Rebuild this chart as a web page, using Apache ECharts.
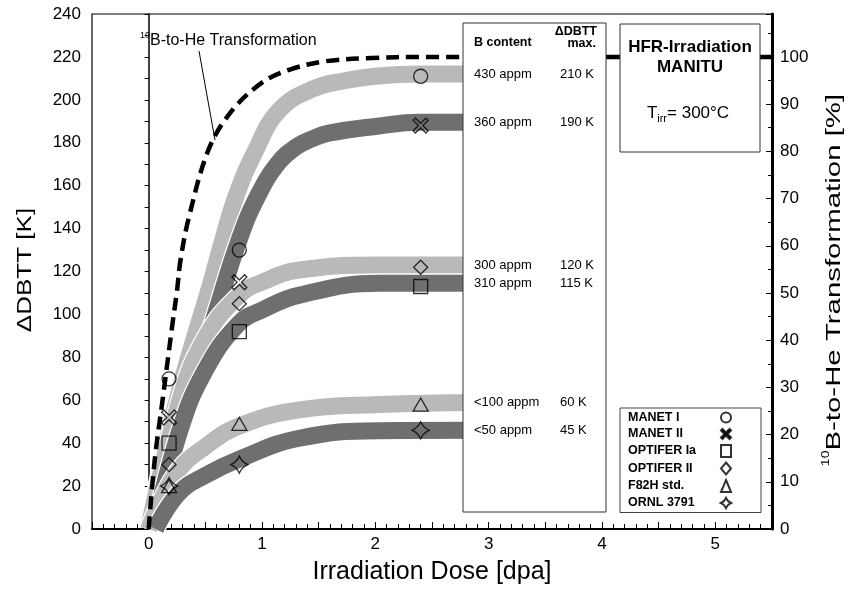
<!DOCTYPE html>
<html>
<head>
<meta charset="utf-8"/>
<title>DBTT vs irradiation dose</title>
<script src="https://cdn.jsdelivr.net/npm/echarts@6/dist/echarts.min.js"></script>
<style>
  html, body { margin: 0; padding: 0; background: #fff; }
  #chart { width: 848px; height: 590px; }
</style>
</head>
<body>
<div id="chart"></div>
<script>
// measured points (dose in dpa, DBTT shift in K)
var doseMarks = [0.18, 0.8, 2.4];
var manetI = [70, 130, 211];
var manetII = [52, 115, 188];
var optiferIa = [40, 92, 113];
var optiferII = [30, 105, 122];
var f82h = [20, 49, 58];
var ornl = [20, 30, 46];

// trend bands
var band430 = [[0, 0], [0.15, 38], [0.31, 72], [0.42, 92], [0.54, 113], [0.655, 135], [0.77, 155], [0.94, 176], [1.15, 195], [1.445, 205], [1.74, 209], [2.0, 211], [2.4, 212], [2.9, 212]];
var band360 = [[0.04, 0], [0.3, 50], [0.45, 76], [0.6, 102], [0.8, 135], [0.97, 156], [1.15, 171], [1.3, 178], [1.45, 182], [1.59, 184.5], [2.0, 187.6], [2.4, 189.5], [2.9, 189.5]];
var band300 = [[0, 0], [0.27, 59], [0.5, 89], [0.8, 109], [1.0, 115], [1.33, 120.7], [2.04, 123], [2.9, 123]];
var band310 = [[0.05, 0], [0.27, 45], [0.5, 74], [0.8, 96], [1.0, 102], [1.33, 109], [2.04, 114.5], [2.9, 114.5]];
var band100 = [[0, 0], [0.1, 12], [0.265, 27.5], [0.5, 38.4], [0.8, 48], [1.33, 55.5], [2.04, 58], [2.9, 59]];
var band50 = [[0.06, 0], [0.265, 16.7], [0.5, 25], [0.8, 32.6], [1.33, 42.3], [2.04, 45.8], [2.9, 46]];

// 10B-to-He transformation curve (left scale, 220 K = 100 %)
var heTransform = [[0, 0], [0.053, 32], [0.125, 61], [0.206, 94], [0.25, 111], [0.28, 125], [0.354, 145], [0.53, 177], [0.735, 195], [1.0, 208], [1.24, 214], [1.56, 218], [1.97, 219.5], [2.4, 220], [2.8, 220]];
var heSaturation = [[2.8, 220], [5.5, 220]];

// table in the box
var bContent = ['430 appm', '360 appm', '300 appm', '310 appm', '<100 appm', '<50 appm'];
var dbttMax = ['210 K', '190 K', '120 K', '115 K', '60 K', '45 K'];
var bandLevels = [212, 189.5, 123, 114.5, 59, 46];

var FONT = 'Liberation Sans, Arial, Helvetica, sans-serif';
var LIGHT = '#b9b9b9';
var DARK = '#6f6f6f';

var chart = echarts.init(document.getElementById('chart'));

// each band gets a thin white rim so overlapping bands stay apart
function band(data, color) {
    return [{
        type: 'line', data: data, smooth: 0.45,
        showSymbol: false, silent: true, z: 1,
        lineStyle: { width: 19.5, color: '#fff' }
    }, {
        type: 'line', data: data, smooth: 0.45,
        showSymbol: false, silent: true, z: 1,
        lineStyle: { width: 17, color: color }
    }];
}

function marks(name, values, symbol, size) {
    return {
        type: 'scatter', name: name, symbol: symbol, symbolSize: size, z: 5,
        data: doseMarks.map(function (d, i) { return [d, values[i]]; }),
        itemStyle: { color: 'rgba(0,0,0,0)', borderColor: '#000', borderWidth: 1.3 }
    };
}

var crossPath = 'path://M-10,-7 L-7,-10 L0,-3 L7,-10 L10,-7 L3,0 L10,7 L7,10 L0,3 L-7,10 L-10,7 L-3,0 Z';
var starPath = 'path://M0,-10 Q3,-3 10,0 Q3,3 0,10 Q-3,3 -10,0 Q-3,-3 0,-10 Z';

var series = [].concat(
    band(band430, LIGHT),
    band(band360, DARK),
    band(band300, LIGHT),
    band(band310, DARK),
    band(band100, LIGHT),
    band(band50, DARK),
    [{
        type: 'line', data: heTransform, smooth: 0.35,
        showSymbol: false, silent: true, z: 3,
        lineStyle: { width: 4.5, color: '#000', type: [13, 7], cap: 'butt' }
    }, {
        type: 'line', data: heSaturation, showSymbol: false, silent: true, z: 3,
        lineStyle: { width: 4.5, color: '#000' }
    },
    marks('MANET I', manetI, 'circle', 14),
    marks('MANET II', manetII, crossPath, 15),
    marks('OPTIFER Ia', optiferIa, 'rect', 14),
    marks('OPTIFER II', optiferII, 'diamond', 14),
    marks('F82H std.', f82h, 'triangle', [15, 13]),
    marks('ORNL 3791', ornl, starPath, 17)]
);

chart.setOption({
    backgroundColor: '#fff',
    animation: false,
    textStyle: { fontFamily: FONT },
    grid: { left: 92, right: 76, top: 14, bottom: 61, show: true, borderColor: '#000', borderWidth: 1.2 },
    xAxis: {
        type: 'value', min: -0.5, max: 5.5, interval: 0.5,
        name: 'Irradiation Dose [dpa]', nameLocation: 'middle', nameGap: 31,
        nameTextStyle: { fontSize: 25, color: '#000', fontFamily: FONT },
        axisLine: { lineStyle: { color: '#000', width: 2 } },
        axisTick: { inside: true, length: 7, lineStyle: { color: '#000' } },
        minorTick: { show: true, splitNumber: 5, length: 5, lineStyle: { color: '#000' } },
        axisLabel: {
            fontSize: 17, color: '#000', margin: 7,
            formatter: function (v) { return Math.abs(v - Math.round(v)) < 1e-9 ? String(Math.round(v)) : ''; }
        },
        splitLine: { show: false }
    },
    yAxis: [{
        type: 'value', min: 0, max: 240, interval: 20, position: 'left',
        axisLine: { show: true, lineStyle: { color: '#000', width: 1.5 } },
        axisTick: { show: true, length: 4, lineStyle: { color: '#000' } },
        minorTick: { show: true, splitNumber: 2, length: 4, lineStyle: { color: '#000' } },
        axisLabel: { fontSize: 17, color: '#000', margin: 11 },
        splitLine: { show: false }
    }, {
        type: 'value', min: 0, max: 240 / 220 * 100, interval: 10, position: 'right',
        axisLine: { show: true, lineStyle: { color: '#000', width: 3 } },
        axisTick: { show: true, inside: true, length: 6, lineStyle: { color: '#000' } },
        minorTick: { show: true, splitNumber: 2, length: 4, lineStyle: { color: '#000' } },
        axisLabel: {
            fontSize: 17, color: '#000', margin: 8,
            formatter: function (v) { return (v <= 100 && Math.abs(v % 10) < 1e-9) ? String(v) : ''; }
        },
        splitLine: { show: false }
    }],
    legend: {
        orient: 'vertical', left: 620, top: 408, align: 'right',
        itemWidth: 10, itemHeight: 12, itemGap: 3.5,
        padding: [3, 29, 3, 8],
        borderColor: '#444', borderWidth: 1, backgroundColor: '#fff',
        formatter: '{n|{name}}',
        textStyle: {
            fontFamily: FONT, fontSize: 12.5, fontWeight: 'bold', color: '#000',
            rich: { n: { fontFamily: FONT, fontSize: 12.5, fontWeight: 'bold', color: '#000', width: 88, lineHeight: 12, align: 'left' } }
        },
        data: [
            { name: 'MANET I' },
            { name: 'MANET II', itemStyle: { color: '#000' } },
            { name: 'OPTIFER Ia' },
            { name: 'OPTIFER II' },
            { name: 'F82H std.' },
            { name: 'ORNL 3791' }
        ]
    },
    series: series
});

function txt(x, y, text, size, opts) {
    opts = opts || {};
    return {
        type: 'text', x: x, y: y, z: 60,
        rotation: opts.rotation || 0, scaleX: opts.scaleX || 1,
        style: {
            text: text, fill: '#000', fontFamily: FONT, fontSize: size,
            fontWeight: opts.bold ? 'bold' : 'normal',
            align: opts.align || 'left', textAlign: opts.align || 'left',
            verticalAlign: 'middle', textVerticalAlign: 'middle',
            rich: opts.rich
        }
    };
}

var graphics = [
    { type: 'rect', z: 50, shape: { x: 463, y: 23, width: 143, height: 489 }, style: { fill: '#fff', stroke: '#333', lineWidth: 1 } },
    { type: 'rect', z: 50, shape: { x: 620, y: 24, width: 140, height: 128 }, style: { fill: '#fff', stroke: '#333', lineWidth: 1 } },
    txt(474, 43, 'B content', 12.5, { bold: true }),
    txt(597, 32, 'ΔDBTT', 12.5, { bold: true, align: 'right' }),
    txt(596, 44, 'max.', 12.5, { bold: true, align: 'right' }),
    txt(690, 47, 'HFR-Irradiation', 17, { bold: true, align: 'center' }),
    txt(690, 67, 'MANITU', 17, { bold: true, align: 'center' }),
    txt(688, 113, '{a|T}{b|irr}{a|= 300°C}', 17, {
        align: 'center',
        rich: {
            a: { fontFamily: FONT, fontSize: 17, lineHeight: 22 },
            b: { fontFamily: FONT, fontSize: 11, lineHeight: 11, verticalAlign: 'bottom' }
        }
    }),
    txt(140, 41, '{s|10}{n|B-to-He Transformation}', 16, {
        rich: {
            s: { fontFamily: FONT, fontSize: 9, lineHeight: 9, verticalAlign: 'top' },
            n: { fontFamily: FONT, fontSize: 16, lineHeight: 20 }
        }
    }),
    { type: 'line', z: 60, shape: { x1: 199, y1: 51, x2: 215, y2: 140 }, style: { stroke: '#000', lineWidth: 1 } },
    txt(25, 270, 'ΔDBTT [K]', 20, { align: 'center', rotation: Math.PI / 2, scaleX: 1.3 }),
    txt(834, 280, '{s|10}{n|B-to-He Transformation [%]}', 21, {
        align: 'center', rotation: Math.PI / 2, scaleX: 1.4,
        rich: {
            s: { fontFamily: FONT, fontSize: 10, lineHeight: 10, verticalAlign: 'top' },
            n: { fontFamily: FONT, fontSize: 21, lineHeight: 26 }
        }
    })
];

bandLevels.forEach(function (level, i) {
    var y = chart.convertToPixel({ yAxisIndex: 0 }, level);
    graphics.push(txt(474, y, bContent[i], 13));
    graphics.push(txt(560, y, dbttMax[i], 13));
});

chart.setOption({ graphic: { elements: graphics } });
</script>
</body>
</html>
